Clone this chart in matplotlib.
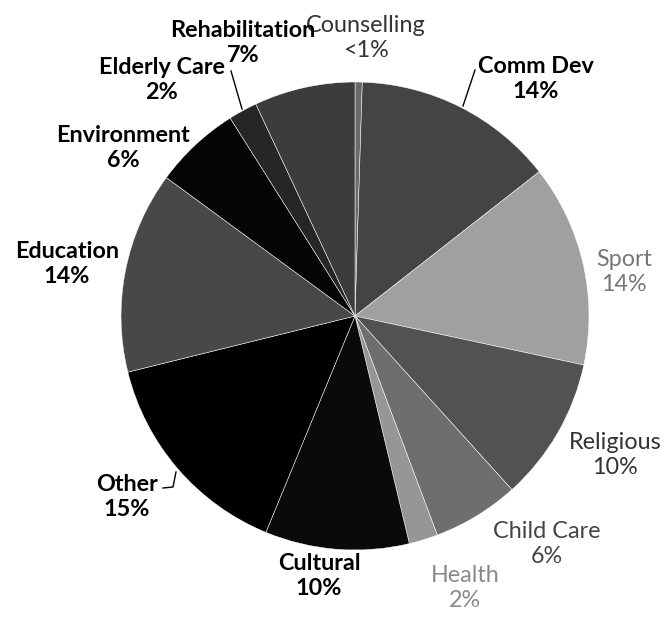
import matplotlib
matplotlib.use("Agg")
import matplotlib.pyplot as plt

# ---- data (clockwise from 12 o'clock) ----
categories = ["Counselling", "Comm Dev", "Sport", "Religious", "Child Care", "Health",
              "Cultural", "Other", "Education", "Environment", "Elderly Care", "Rehabilitation"]
shares = [0.5, 14, 14, 10, 6, 2, 10, 15, 14, 6, 2, 7]
pct_labels = ["<1%", "14%", "14%", "10%", "6%", "2%", "10%", "15%", "14%", "6%", "2%", "7%"]

# ---- styles ----
slice_colors = ["#6a6a6a", "#444444", "#a0a0a0", "#525252", "#6e6e6e", "#969696",
                "#0a0a0a", "#000000", "#484848", "#050505", "#262626", "#3c3c3c"]
label_colors = ["#333333", "#000000", "#777777", "#333333", "#444444", "#8a8a8a",
                "#000000", "#000000", "#000000", "#000000", "#000000", "#000000"]
label_weights = ["normal", "bold", "normal", "normal", "normal", "normal",
                 "bold", "bold", "bold", "bold", "bold", "bold"]
# label centres in pixel coordinates (x, y from top)
label_pos = [(366, 38), (536, 79), (624, 272), (615, 455), (547, 544), (465, 588),
             (319, 576), (127, 497), (67, 264), (123, 148), (162, 80), (243, 43)]

W, H = 668, 619
fig = plt.figure(figsize=(W / 100, H / 100), dpi=100)
ax = fig.add_axes([0, 0, 1, 1])

cx, cy, r = 355, 316, 234
ax.pie(shares, colors=slice_colors, startangle=90, counterclock=False,
       center=(cx, H - cy), radius=r,
       wedgeprops=dict(edgecolor="white", linewidth=0.35))
ax.set_xlim(0, W)
ax.set_ylim(0, H)
ax.set_aspect("equal")
ax.axis("off")

for name, pct, (x, y), c, w in zip(categories, pct_labels, label_pos, label_colors, label_weights):
    ax.text(x, H - y, f"{name}\n{pct}", ha="center", va="center", fontsize=16.8,
            family="Lato", fontweight=w, color=c, linespacing=1.28)

# leader lines
ax.plot([242, 231], [H - 109, H - 71], color="black", lw=1)
ax.plot([463, 475], [H - 106, H - 70], color="black", lw=1)
ax.plot([176, 173, 163], [H - 472, H - 487, H - 488], color="black", lw=1)

fig.savefig("out.png", dpi=100)
